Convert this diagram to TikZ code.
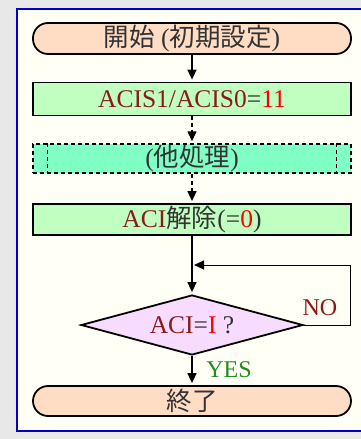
\documentclass[tikz,border=0pt]{standalone}
\usepackage{fontspec}
\setmainfont{Liberation Serif}
\newfontfamily\jp{Noto Sans CJK JP}
\usetikzlibrary{shapes.geometric,arrows.meta}
\definecolor{bggray}{HTML}{E8E8E8}
\definecolor{ivory}{HTML}{FFFFF5}
\definecolor{frameblue}{HTML}{0000CC}
\definecolor{peach}{HTML}{FFDCC4}
\definecolor{lgreen}{HTML}{C0FFC0}
\definecolor{aqua}{HTML}{80FFC4}
\definecolor{lilac}{HTML}{F8DCFF}
\definecolor{darkred}{HTML}{8B1A1A}
\definecolor{txtgray}{HTML}{333333}
\definecolor{yesgreen}{HTML}{228B22}
\newcommand\tdr[1]{\textcolor{darkred}{#1}}
\newcommand\tred[1]{\textcolor{red}{#1}}
\begin{document}
\begin{tikzpicture}[x=1pt,y=-1pt,
  base/.style={font=\fontsize{25.5}{28}\selectfont, text=txtgray, inner sep=0pt},
  term/.style={base, draw=black, line width=1.8pt, fill=peach, minimum width=318pt, rounded corners=15pt},
  procbox/.style={base, draw=black, line width=1.8pt, fill=lgreen, minimum width=318pt},
  dec/.style={base, diamond, draw=black, line width=1.8pt, fill=lilac, minimum width=222pt, minimum height=60pt, aspect=3.7},
  dsh/.style={dash pattern=on 4pt off 3pt},
  arr/.style={line width=1.5pt, -{Triangle[length=10pt,width=9pt]}, shorten >=2pt},
  lbl/.style={font=\fontsize{24}{26}\selectfont, inner sep=0pt}]
\useasboundingbox (0,0) rectangle (361,439);
\fill[bggray] (0,0) rectangle (361,439);
\fill[ivory] (17,9) rectangle (361,431);
\draw[frameblue, line width=1.5pt] (361,9) -- (17,9) -- (17,431) -- (361,431);

\node[term, minimum height=31pt] (start) at (192,38.5) {{\jp 開始} ({\jp 初期設定})};
\node[procbox, minimum height=33pt] (acis) at (192,99) {\tdr{ACIS1/ACIS0}=\tred{11}};
\node[procbox, dsh, line width=1.5pt, fill=aqua, minimum height=29pt] (other) at (192,158.5) {({\jp 他処理})};
\draw[dsh, line width=1.3pt] ([xshift=15pt]other.north west) -- ([xshift=15pt]other.south west);
\draw[dsh, line width=1.3pt] ([xshift=-15pt]other.north east) -- ([xshift=-15pt]other.south east);
\node[procbox, minimum height=31pt] (clr) at (192,219.5) {\tdr{ACI}{\jp 解除}(=\tred{0})};
\node[dec] (chk) at (192,325) {\tdr{ACI}=\tred{I} ?};
\node[term, minimum height=30pt] (end) at (192,401) {\jp 終了};

\draw[arr] (start) -- (acis);
\draw[arr, dsh] (acis) -- (other);
\draw[arr, dsh] (other) -- (clr);
\draw[arr] (clr) -- (chk);
\draw[arr] (chk) -- (end);

\coordinate (nr) at (350,265);
\coordinate (nj) at (192,265);
\draw[line width=1pt, -{Triangle[length=10pt,width=9pt]}] (chk.east) -| (nr) -- ([xshift=2pt]nj);

\node[lbl, text=darkred] (no) at (320,308) {NO};
\node[lbl, text=yesgreen] (yes) at (229,370) {YES};
\end{tikzpicture}
\end{document}
